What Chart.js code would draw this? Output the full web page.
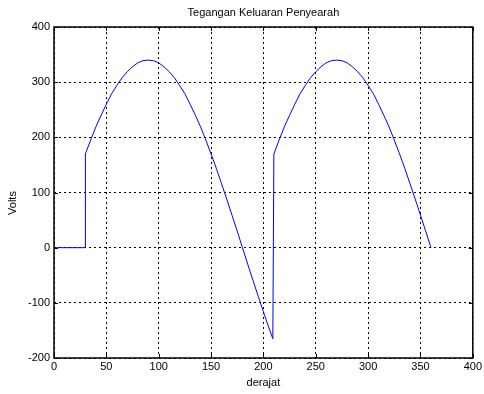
<!DOCTYPE html>
<html>
<head>
<meta charset="utf-8">
<script src="https://cdn.jsdelivr.net/npm/chart.js@4"></script>
<style>
  body { margin: 0; background: #fff; }
  #wrap { width: 484px; height: 394px; }
</style>
</head>
<body>
<div id="wrap"><canvas id="chart" width="484" height="394"></canvas></div>
<script>
// values (degrees vs volts)
const degrees = [
  0, 30, 30, 35, 40, 45, 50, 55, 60, 65, 70, 75, 80, 85, 90, 95, 100, 105, 110,
  115, 120, 125, 130, 135, 140, 145, 150, 155, 160, 165, 170, 175, 180, 185,
  190, 195, 200, 205, 209, 210, 215, 220, 225, 230, 235, 240, 245, 250, 255,
  260, 265, 270, 275, 280, 285, 290, 295, 300, 305, 310, 315, 320, 325, 330,
  335, 340, 345, 350, 355, 360
];
const volts = [
  0, 0, 170, 195, 219, 240, 260, 279, 294, 308, 319, 328, 335, 339, 340, 339,
  335, 328, 319, 308, 294, 279, 260, 240, 219, 195, 170, 144, 116, 88, 59, 30,
  0, -30, -59, -88, -116, -144, -165, 170, 195, 219, 240, 260, 279, 294, 308,
  319, 328, 335, 339, 340, 339, 335, 328, 319, 308, 294, 279, 260, 240, 219,
  195, 170, 144, 116, 88, 59, 30, 0
];
const xTicks = [0, 50, 100, 150, 200, 250, 300, 350, 400];
const yTicks = [-200, -100, 0, 100, 200, 300, 400];

const titleText = "Tegangan Keluaran Penyearah";
const xLabel = "derajat";
const yLabel = "Volts";

const FONT = "Liberation Sans, Arial, sans-serif";

// frame, title and y label, matlab style
const framePlugin = {
  id: "frame",
  afterDraw(chart) {
    const { ctx, chartArea: a } = chart;
    ctx.save();
    ctx.strokeStyle = "#000";
    ctx.lineWidth = 1.5;
    ctx.strokeRect(a.left, a.top, a.right - a.left, a.bottom - a.top);

    // little inward tick marks
    ctx.lineWidth = 1;
    const xs = chart.scales.x, ys = chart.scales.y;
    xTicks.forEach((t) => {
      const px = Math.round(xs.getPixelForValue(t)) + 0.5;
      ctx.beginPath();
      ctx.moveTo(px, a.bottom); ctx.lineTo(px, a.bottom - 4);
      ctx.moveTo(px, a.top); ctx.lineTo(px, a.top + 4);
      ctx.stroke();
    });
    yTicks.forEach((t) => {
      const py = Math.round(ys.getPixelForValue(t)) + 0.5;
      ctx.beginPath();
      ctx.moveTo(a.left, py); ctx.lineTo(a.left + 4, py);
      ctx.moveTo(a.right, py); ctx.lineTo(a.right - 4, py);
      ctx.stroke();
    });

    ctx.fillStyle = "#000";
    ctx.font = "11px " + FONT;
    ctx.textAlign = "center";
    ctx.textBaseline = "middle";
    ctx.fillText(titleText, (a.left + a.right) / 2, 13);

    ctx.translate(13, 203);
    ctx.rotate(-Math.PI / 2);
    ctx.fillText(yLabel, 0, 0);
    ctx.restore();
  },
};

new Chart(document.getElementById("chart"), {
  type: "line",
  data: {
    datasets: [
      {
        data: degrees.map((d, i) => ({ x: d, y: volts[i] })),
        borderColor: "#0000ff",
        borderWidth: 1,
        pointRadius: 0,
        tension: 0,
        fill: false,
      },
    ],
  },
  options: {
    responsive: false,
    animation: false,
    layout: { padding: { top: 27, right: 9, left: 0, bottom: 0 } },
    plugins: { legend: { display: false }, tooltip: { enabled: false } },
    scales: {
      x: {
        type: "linear",
        min: 0,
        max: 400,
        afterBuildTicks: (s) => { s.ticks = xTicks.map((v) => ({ value: v })); },
        afterFit: (s) => { s.height = 36; },
        ticks: { color: "#000", font: { family: FONT, size: 11 }, padding: 2, maxRotation: 0 },
        grid: { color: "#000", lineWidth: 1, drawTicks: false },
        border: { display: false, dash: [2, 3] },
        title: { display: true, text: xLabel, color: "#000", font: { family: FONT, size: 11 }, padding: { top: 2, bottom: 4 } },
      },
      y: {
        type: "linear",
        min: -200,
        max: 400,
        afterBuildTicks: (s) => { s.ticks = yTicks.map((v) => ({ value: v })); },
        afterFit: (s) => { s.width = 54; },
        ticks: { color: "#000", font: { family: FONT, size: 11 }, padding: 4 },
        grid: { color: "#000", lineWidth: 1, drawTicks: false },
        border: { display: false, dash: [2, 3] },
      },
    },
  },
  plugins: [framePlugin],
});
</script>
</body>
</html>
